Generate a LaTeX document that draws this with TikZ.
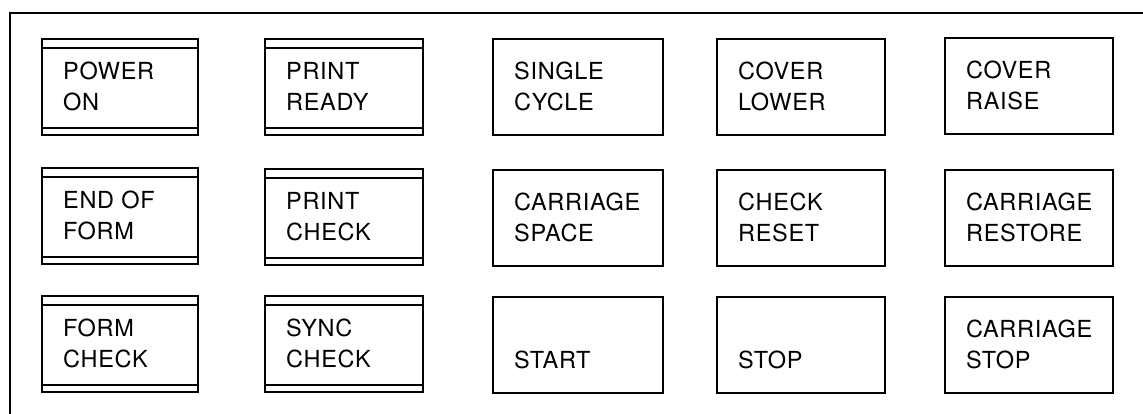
\documentclass[tikz,border=0pt]{standalone}
\usepackage{fontspec}
\newfontfamily\keyfont[LetterSpace=3]{TeX Gyre Heros}
\newcommand\keylabels[3]{%
  \node[keytext] (#1-a) at ([xshift=22pt,yshift=-42pt]#1.north west) {#2};
  \node[keytext] (#1-b) at ([xshift=22pt,yshift=-73pt]#1.north west) {#3};}
\newcommand\lampbars[1]{%
  \draw[lampbar] ([yshift=-10pt]#1.north west) -- ([yshift=-10pt]#1.north east);
  \draw[lampbar] ([yshift=8pt]#1.south west) -- ([yshift=8pt]#1.south east);}
\begin{document}
\begin{tikzpicture}[x=1pt,y=-1pt,
  keybox/.style={draw=black, line width=2.1pt, minimum height=96pt, inner sep=0pt, fill=white},
  keytext/.style={anchor=base west, inner sep=0pt, font=\keyfont\fontsize{23.5}{28}\selectfont},
  lampbar/.style={draw=black, line width=1.7pt},
  frameline/.style={draw=black, line width=2.6pt}]
\useasboundingbox (0,0) rectangle (1143,414);
% frame
\coordinate (ftr) at (1143,13);
\coordinate (ftl) at (10,13);
\coordinate (fbl) at (10,414);
\draw[frameline] (ftr) -- (ftl) -- (fbl);
% row 1
\node[keybox, minimum width=156pt] (pwr) at (120,87) {};
\node[keybox, minimum width=158pt] (prdy) at (344,87) {};
\node[keybox, minimum width=170pt] (scyc) at (578,87) {};
\node[keybox, minimum width=168pt] (clow) at (801,87) {};
\node[keybox, minimum width=168pt] (crai) at (1029,86) {};
% row 2
\node[keybox, minimum width=156pt] (eof) at (120,216) {};
\node[keybox, minimum width=158pt] (pchk) at (344,217) {};
\node[keybox, minimum width=170pt] (cspc) at (578,218) {};
\node[keybox, minimum width=168pt] (crst) at (801,218) {};
\node[keybox, minimum width=168pt] (cres) at (1029,218) {};
% row 3
\node[keybox, minimum width=156pt] (fchk) at (120,344) {};
\node[keybox, minimum width=158pt] (schk) at (344,344) {};
\node[keybox, minimum width=170pt] (strt) at (578,345) {};
\node[keybox, minimum width=168pt] (stp) at (801,345) {};
\node[keybox, minimum width=168pt] (cstp) at (1029,345) {};
% indicator bars
\lampbars{pwr}\lampbars{prdy}\lampbars{eof}\lampbars{pchk}\lampbars{fchk}\lampbars{schk}
% labels
\keylabels{pwr}{POWER}{ON}
\keylabels{prdy}{PRINT}{READY}
\keylabels{scyc}{SINGLE}{CYCLE}
\keylabels{clow}{COVER}{LOWER}
\keylabels{crai}{COVER}{RAISE}
\keylabels{eof}{END OF}{FORM}
\keylabels{pchk}{PRINT}{CHECK}
\keylabels{cspc}{CARRIAGE}{SPACE}
\keylabels{crst}{CHECK}{RESET}
\keylabels{cres}{CARRIAGE}{RESTORE}
\keylabels{fchk}{FORM}{CHECK}
\keylabels{schk}{SYNC}{CHECK}
\node[keytext] (strt-b) at ([xshift=22pt,yshift=-73pt]strt.north west) {START};
\node[keytext] (stp-b) at ([xshift=22pt,yshift=-73pt]stp.north west) {STOP};
\keylabels{cstp}{CARRIAGE}{STOP}
\end{tikzpicture}
\end{document}
